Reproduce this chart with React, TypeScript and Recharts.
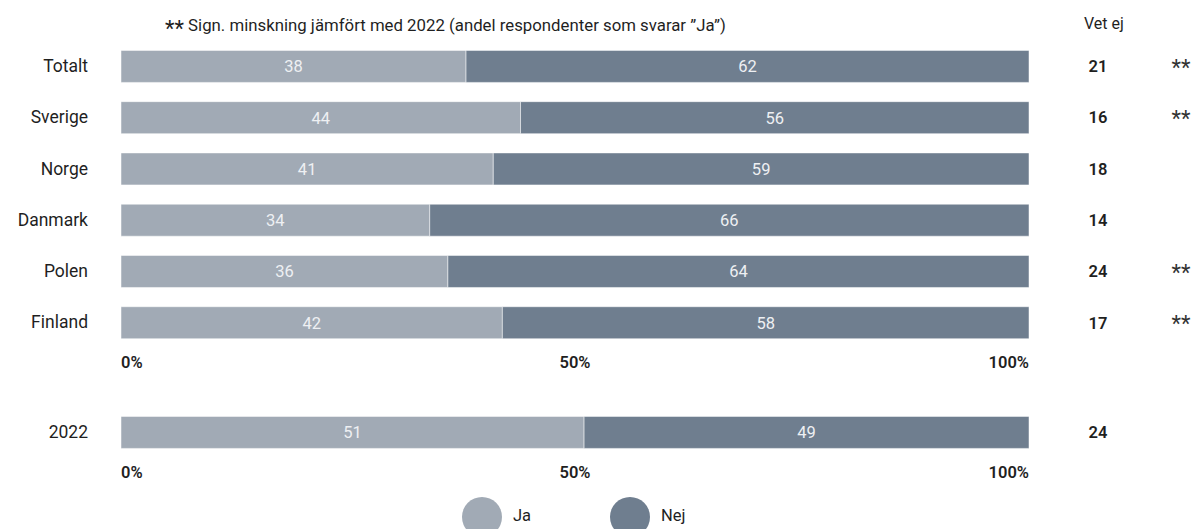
import { BarChart, Bar, XAxis, YAxis, LabelList } from "recharts";

const countries = ["Totalt", "Sverige", "Norge", "Danmark", "Polen", "Finland"];
const jaValues = [38, 44, 41, 34, 36, 42];
const nejValues = [62, 56, 59, 66, 64, 58];
const vetEjValues = [21, 16, 18, 14, 24, 17];
const sigMarks = ["**", "**", "", "", "**", "**"];

const prevLabel = ["2022"];
const prevJa = [51];
const prevNej = [49];
const prevVetEj = [24];

const pctTicks = [0, 50, 100];

const JA = "#a1aab5";
const NEJ = "#6f7e8f";
const FONT = "Roboto, 'DejaVu Sans', sans-serif";
const TEXT = "#1f1f1f";

const mainData = countries.map((c, i) => ({
  country: c,
  ja: jaValues[i],
  nej: nejValues[i],
  vetEj: vetEjValues[i],
  sig: sigMarks[i],
}));

const prevData = prevLabel.map((c, i) => ({
  country: c,
  ja: prevJa[i],
  nej: prevNej[i],
  vetEj: prevVetEj[i],
  sig: "",
}));

const PctTick = (props: any) => {
  const { x, y, payload } = props;
  const v = payload.value;
  const anchor = v === 0 ? "start" : v === 100 ? "end" : "middle";
  return (
    <text x={x} y={y} dy="0.71em" textAnchor={anchor} fontSize={16.5} fontWeight={600} fill={TEXT} fontFamily={FONT}>
      {v}%
    </text>
  );
};

const CatTick = (props: any) => {
  const { x, y, payload } = props;
  return (
    <text x={x} y={y} dy="0.35em" textAnchor="end" fontSize={17.5} fill={TEXT} fontFamily={FONT}>
      {payload.value}
    </text>
  );
};

const VetEjLabel = (props: any) => {
  const { x, y, width, height, value } = props;
  return (
    <text x={x + width + 69} y={y + height / 2} dy="0.35em" textAnchor="middle" fontSize={16.5} fontWeight={600} fill={TEXT} fontFamily={FONT}>
      {value}
    </text>
  );
};

const SigLabel = (props: any) => {
  const { x, y, width, height, value } = props;
  if (!value) return null;
  return (
    <text x={x + width + 152} y={y + height / 2} dy="0.38em" textAnchor="middle" fontSize={22} fill="#333" fontFamily={FONT}>
      {value}
    </text>
  );
};

function StackChart({ data, height, top }: { data: any[]; height: number; top: number }) {
  return (
    <BarChart
      layout="vertical"
      width={1198}
      height={height}
      data={data}
      margin={{ top, right: 169, left: 0, bottom: 0 }}
      barSize={32}
    >
      <XAxis
        type="number"
        domain={[0, 100]}
        ticks={pctTicks}
        axisLine={false}
        tickLine={false}
        tick={<PctTick />}
        height={30}
      />
      <YAxis
        type="category"
        dataKey="country"
        width={121}
        axisLine={false}
        tickLine={false}
        tickSize={0}
        tickMargin={33}
        tick={<CatTick />}
      />
      <Bar dataKey="ja" stackId="a" fill={JA} stroke="#ffffff" strokeWidth={0.5} isAnimationActive={false}>
        <LabelList dataKey="ja" position="center" fill="#eef0f3" fontSize={16.5} fontFamily={FONT} />
      </Bar>
      <Bar dataKey="nej" stackId="a" fill={NEJ} stroke="#ffffff" strokeWidth={0.5} isAnimationActive={false}>
        <LabelList dataKey="nej" position="center" fill="#eef0f3" fontSize={16.5} fontFamily={FONT} />
        <LabelList dataKey="vetEj" content={<VetEjLabel />} />
        <LabelList dataKey="sig" content={<SigLabel />} />
      </Bar>
    </BarChart>
  );
}

export default function App() {
  return (
    <div style={{ position: "absolute", left: 0, top: 0, width: 1198, height: 529, background: "#fff", overflow: "hidden", fontFamily: FONT, color: TEXT }}>
      <div style={{ position: "absolute", left: 165, top: 13, fontSize: 16.8, whiteSpace: "nowrap", lineHeight: "24px" }}>
        <span style={{ fontSize: 22, verticalAlign: "-5px" }}>**</span> Sign. minskning jämfört med 2022 (andel respondenter som svarar ”Ja”)
      </div>
      <div style={{ position: "absolute", left: 1084, top: 14, fontSize: 16, whiteSpace: "nowrap" }}>Vet ej</div>
      <div style={{ position: "absolute", left: 0, top: 0 }}>
        <StackChart data={mainData} height={378} top={40.4} />
      </div>
      <div style={{ position: "absolute", left: 0, top: 396 }}>
        <StackChart data={prevData} height={92} top={10.4} />
      </div>
      <div style={{ position: "absolute", left: 462, top: 497, width: 40, height: 40, borderRadius: 20, background: JA }} />
      <div style={{ position: "absolute", left: 513, top: 506, fontSize: 16.5 }}>Ja</div>
      <div style={{ position: "absolute", left: 610, top: 497, width: 40, height: 40, borderRadius: 20, background: NEJ }} />
      <div style={{ position: "absolute", left: 661, top: 506, fontSize: 16.5 }}>Nej</div>
    </div>
  );
}
